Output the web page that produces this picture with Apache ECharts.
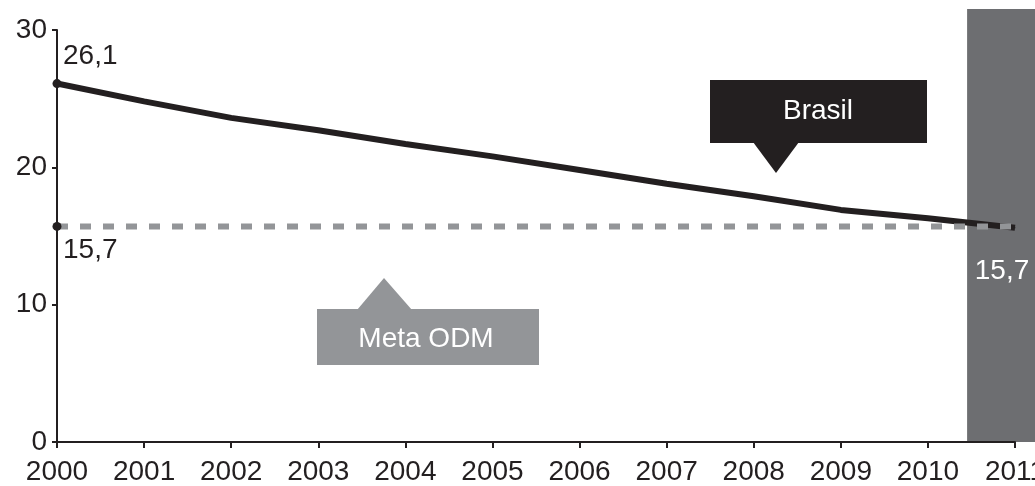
<!DOCTYPE html>
<html>
<head>
<meta charset="utf-8">
<script src="https://cdn.jsdelivr.net/npm/echarts@6/dist/echarts.min.js"></script>
<style>
  html, body { margin: 0; padding: 0; background: #fff; }
  #chart { width: 1035px; height: 486px; }
</style>
</head>
<body>
<div id="chart"></div>
<script>
// data
const years = [2000, 2001, 2002, 2003, 2004, 2005, 2006, 2007, 2008, 2009, 2010, 2011];
const brasil = [26.1, 24.8, 23.6, 22.7, 21.7, 20.8, 19.8, 18.8, 17.9, 16.9, 16.3, 15.6];
const metaOdm = 15.7;
const bandStart = 2010.45;

const ink = "#231f20";
const grey = "#939598";
const band = "#6d6e71";
const font = "Liberation Sans, Arial, sans-serif";
const fs = 28;

const myChart = echarts.init(document.getElementById("chart"));

const brasilData = years.map((y, i) => {
  const item = { value: [y, brasil[i]] };
  if (i === 0) {
    item.symbol = "circle";
    item.symbolSize = 9;
    item.label = {
      show: true,
      position: "top",
      align: "left",
      offset: [6, -4],
      formatter: "26,1",
      color: ink,
      fontSize: fs,
      fontFamily: font,
    };
  }
  if (i === years.length - 1) {
    item.symbol = "circle";
    item.symbolSize = 1;
    item.label = {
      show: true,
      position: "bottom",
      align: "center",
      offset: [-13, 24],
      formatter: "15,7",
      color: "#fff",
      fontSize: fs,
      fontFamily: font,
    };
  }
  return item;
});

const metaData = [
  {
    value: [years[0], metaOdm],
    symbol: "circle",
    symbolSize: 9,
    itemStyle: { color: ink },
    label: {
      show: true,
      position: "bottom",
      align: "left",
      offset: [6, 0],
      formatter: "15,7",
      color: ink,
      fontSize: fs,
      fontFamily: font,
    },
  },
  { value: [years[years.length - 1], metaOdm] },
];

myChart.setOption({
  animation: false,
  grid: { left: 57, right: 20, top: 30, bottom: 44, outerBoundsMode: "none" },
  xAxis: {
    type: "value",
    min: 2000,
    max: 2011,
    interval: 1,
    axisLine: { lineStyle: { color: ink, width: 2 } },
    axisTick: { length: 6, lineStyle: { color: ink, width: 2 } },
    axisLabel: {
      color: ink,
      fontSize: fs,
      fontFamily: font,
      margin: 16,
      formatter: (v) => String(v),
    },
    splitLine: { show: false },
  },
  yAxis: {
    type: "value",
    min: 0,
    max: 30,
    interval: 10,
    axisLine: { show: true, lineStyle: { color: ink, width: 2 } },
    axisTick: { show: true, length: 5, lineStyle: { color: ink, width: 2 } },
    axisLabel: { color: ink, fontSize: fs, fontFamily: font, margin: 10 },
    splitLine: { show: false },
  },
  series: [
    {
      type: "line",
      name: "Brasil",
      data: brasilData,
      symbol: "none",
      itemStyle: { color: ink },
      lineStyle: { color: ink, width: 6 },
      z: 3,
    },
    {
      type: "line",
      name: "Meta ODM",
      data: metaData,
      symbol: "none",
      itemStyle: { color: grey },
      lineStyle: { color: grey, width: 6, type: [11, 12] },
      z: 4,
    },
  ],
});

// grey band for 2011 and the two callouts
const x0 = myChart.convertToPixel({ xAxisIndex: 0 }, bandStart);
const y0 = myChart.convertToPixel({ yAxisIndex: 0 }, 0);
myChart.setOption({
  graphic: [
    {
      type: "rect",
      z: -1,
      shape: { x: x0, y: 9, width: 1035 - x0, height: y0 - 9 },
      style: { fill: band },
    },
    {
      type: "group",
      z: 10,
      children: [
        { type: "rect", shape: { x: 710, y: 80, width: 217, height: 63 }, style: { fill: ink } },
        { type: "polygon", shape: { points: [[753, 142], [799, 142], [776, 173]] }, style: { fill: ink } },
        {
          type: "text",
          x: 818, y: 111,
          style: { text: "Brasil", fill: "#fff", font: fs + "px " + font, textAlign: "center", textVerticalAlign: "middle" },
        },
      ],
    },
    {
      type: "group",
      z: 10,
      children: [
        { type: "rect", shape: { x: 317, y: 309, width: 222, height: 56 }, style: { fill: grey } },
        { type: "polygon", shape: { points: [[357, 310], [412, 310], [384, 278]] }, style: { fill: grey } },
        {
          type: "text",
          x: 426, y: 339,
          style: { text: "Meta ODM", fill: "#fff", font: fs + "px " + font, textAlign: "center", textVerticalAlign: "middle" },
        },
      ],
    },
  ],
});
</script>
</body>
</html>
